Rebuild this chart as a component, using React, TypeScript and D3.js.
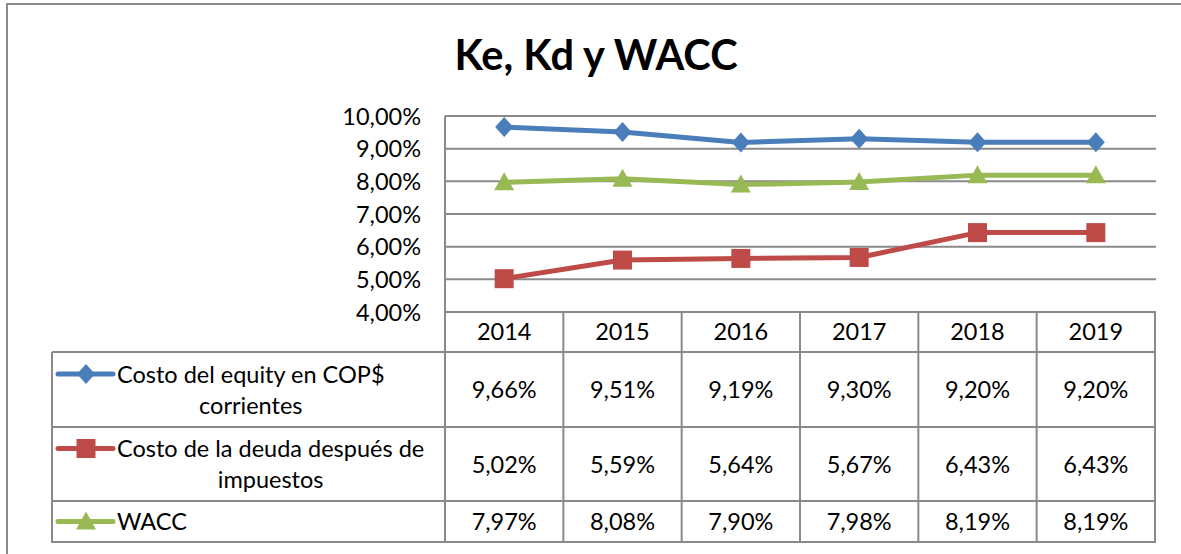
import React, { useEffect, useRef } from "react";
import * as d3 from "d3";

const years = ["2014", "2015", "2016", "2017", "2018", "2019"];
const keValues = [9.66, 9.51, 9.19, 9.3, 9.2, 9.2];
const kdValues = [5.02, 5.59, 5.64, 5.67, 6.43, 6.43];
const waccValues = [7.97, 8.08, 7.9, 7.98, 8.19, 8.19];
const seriesNames = [
  ["Costo del equity en COP$", "corrientes"],
  ["Costo de la deuda después de", "impuestos"],
  ["WACC"],
];
const yTicks = [4, 5, 6, 7, 8, 9, 10];
const title = "Ke, Kd y WACC";

const W = 1181;
const H = 554;
const FONT = "Lato, 'Liberation Sans', Arial, sans-serif";
const FS = 23.5;

export default function App() {
  const ref = useRef<SVGSVGElement>(null);

  useEffect(() => {
    const svg = d3.select(ref.current);
    svg.selectAll("*").remove();

    const plotL = 445, plotR = 1155, plotT = 116, plotB = 312;
    const tableL = 52;
    const rowLines = [352, 427, 501, 542];
    const gridColor = "#8a8a8a";

    const x = d3.scaleBand<string>().domain(years).range([plotL, plotR]);
    const cx = (yr: string) => (x(yr) as number) + x.bandwidth() / 2;
    const y = d3.scaleLinear().domain([4, 10]).range([plotB, plotT]);

    svg.append("rect").attr("width", W).attr("height", H).attr("fill", "#fff");
    svg.append("rect").attr("x", 7).attr("y", 4).attr("width", W + 20).attr("height", H + 20)
      .attr("fill", "none").attr("stroke", "#8c8c8c").attr("stroke-width", 2);

    svg.append("text").attr("x", 596).attr("y", 70).attr("text-anchor", "middle")
      .attr("font-family", FONT).attr("font-weight", "bold").attr("font-size", 41.5)
      .attr("fill", "#000").text(title);

    svg.append("g").selectAll("line").data(yTicks).join("line")
      .attr("x1", plotL).attr("x2", plotR + 1)
      .attr("y1", (d) => y(d)).attr("y2", (d) => y(d))
      .attr("stroke", gridColor).attr("stroke-width", 2);

    svg.append("g").selectAll("text").data(yTicks).join("text")
      .attr("x", 421).attr("y", (d) => y(d) + 8.5).attr("text-anchor", "end")
      .attr("font-family", FONT).attr("font-size", FS).attr("fill", "#000")
      .text((d) => d3.format(".2f")(d).replace(".", ",") + "%");

    const tg = svg.append("g").attr("stroke", gridColor).attr("stroke-width", 2);
    rowLines.forEach((ry) => {
      tg.append("line").attr("x1", tableL).attr("x2", plotR + 1).attr("y1", ry).attr("y2", ry);
    });
    const bounds = years.map((yr) => x(yr) as number).concat([plotR]);
    bounds.forEach((bx, i) => {
      tg.append("line").attr("x1", bx).attr("x2", bx)
        .attr("y1", i === 0 ? plotT : plotB).attr("y2", rowLines[3] + 1);
    });
    tg.append("line").attr("x1", tableL).attr("x2", tableL).attr("y1", rowLines[0]).attr("y2", rowLines[3] + 1);

    svg.append("g").selectAll("text").data(years).join("text")
      .attr("x", (d) => cx(d)).attr("y", 340).attr("text-anchor", "middle")
      .attr("font-family", FONT).attr("font-size", FS).attr("fill", "#000").text((d) => d);

    const series = [
      { values: keValues, color: "#4A7EBB", marker: "diamond" },
      { values: kdValues, color: "#BE4B48", marker: "square" },
      { values: waccValues, color: "#98B954", marker: "triangle" },
    ];

    const markerPath = (m: string) => {
      if (m === "diamond") return "M0,-10L9,0L0,10L-9,0Z";
      if (m === "square") return "M-9.5,-9.5H9.5V9.5H-9.5Z";
      return "M0,-10L10,8L-10,8Z";
    };

    const line = d3.line<number>().x((_, i) => cx(years[i])).y((d) => y(d));

    series.forEach((s) => {
      svg.append("path").datum(s.values).attr("d", line).attr("fill", "none")
        .attr("stroke", s.color).attr("stroke-width", 5).attr("stroke-linejoin", "round");
      svg.append("g").selectAll("path").data(s.values).join("path")
        .attr("transform", (d, i) => `translate(${cx(years[i])},${y(d)})`)
        .attr("d", markerPath(s.marker)).attr("fill", s.color);
    });

    series.forEach((s, r) => {
      const top = rowLines[r];
      const bot = rowLines[r + 1];
      const mid = (top + bot) / 2;
      const names = seriesNames[r];
      const lineY = names.length > 1 ? mid - 15.5 : mid;
      svg.append("line").attr("x1", 58).attr("x2", 113).attr("y1", lineY).attr("y2", lineY)
        .attr("stroke", s.color).attr("stroke-width", 5).attr("stroke-linecap", "round");
      svg.append("path").attr("transform", `translate(86,${lineY})`)
        .attr("d", markerPath(s.marker)).attr("fill", s.color);
      const t1 = svg.append("text").attr("x", 117).attr("y", lineY + 8.5)
        .attr("font-family", FONT).attr("font-size", FS).attr("fill", "#000").text(names[0]);
      if (names.length > 1) {
        const w = (t1.node() as SVGTextElement).getComputedTextLength();
        svg.append("text").attr("x", 117 + w / 2).attr("y", mid + 15.5 + 8.5)
          .attr("text-anchor", "middle")
          .attr("font-family", FONT).attr("font-size", FS).attr("fill", "#000").text(names[1]);
      }
      svg.append("g").selectAll("text").data(s.values).join("text")
        .attr("x", (d, i) => cx(years[i])).attr("y", mid + 8.5).attr("text-anchor", "middle")
        .attr("font-family", FONT).attr("font-size", FS).attr("fill", "#000")
        .text((d) => d3.format(".2f")(d).replace(".", ",") + "%");
    });
  }, []);

  return (
    <svg ref={ref} width={W} height={H}
      style={{ position: "absolute", left: 0, top: 0, display: "block" }} />
  );
}
